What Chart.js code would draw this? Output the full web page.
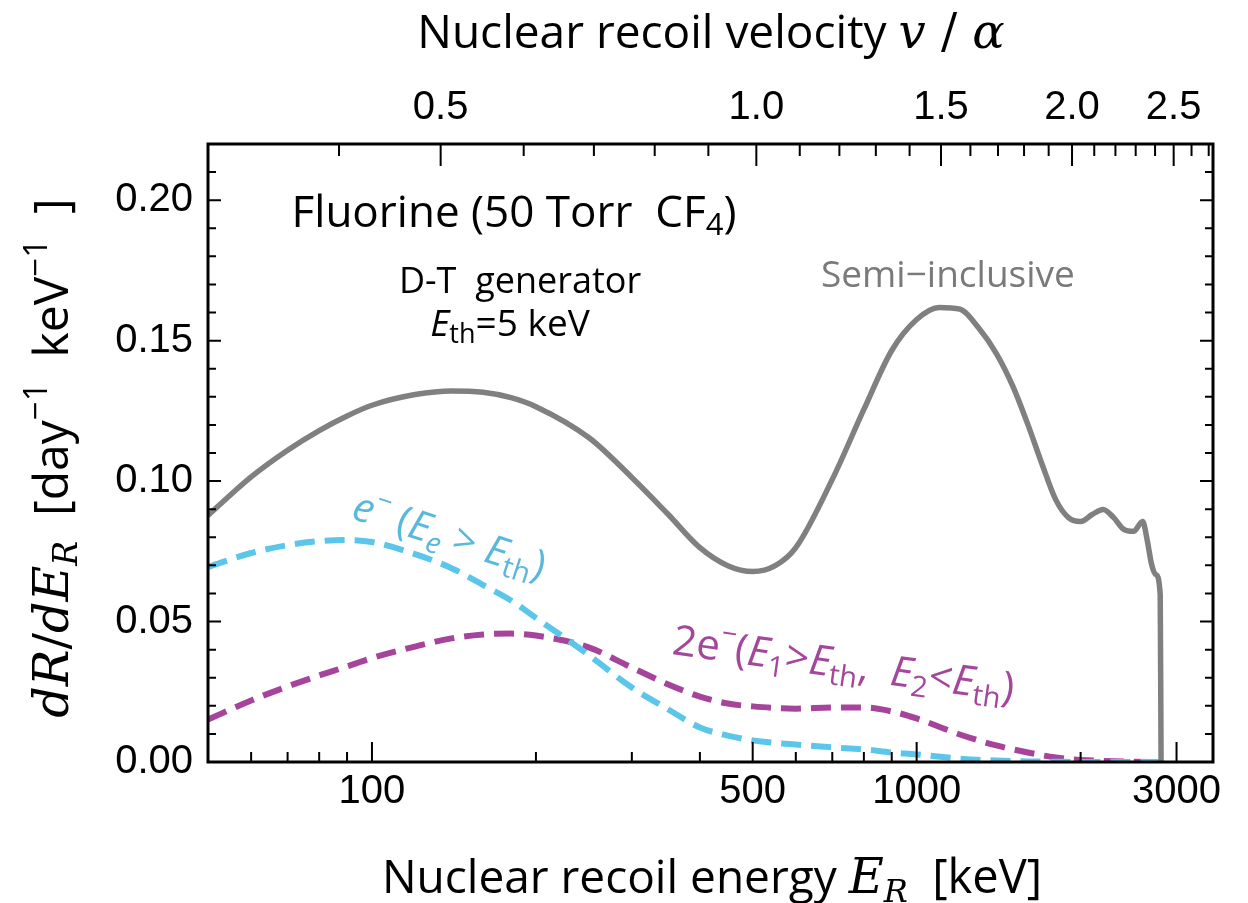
<!DOCTYPE html>
<html>
<head>
<meta charset="utf-8">
<script src="https://cdn.jsdelivr.net/npm/chart.js@4.4.0/dist/chart.umd.min.js"></script>
<style>
  html, body { margin: 0; padding: 0; background: #fff; }
  #wrap { width: 1248px; height: 903px; }
</style>
</head>
<body>
<div id="wrap"><canvas id="c" width="1248" height="903"></canvas></div>
<script>
// ---- data (E in keV, rate in day^-1 keV^-1) ----
const semiEnergy = [50, 60, 70, 80, 90, 100, 120, 140, 160, 180, 200, 250, 300, 350, 400, 450, 500, 550, 600, 700, 800, 900, 1000, 1100, 1200, 1300, 1400, 1500, 1600, 1700, 1800, 1900, 2000, 2100, 2200, 2300, 2400, 2500, 2600, 2650, 2700, 2750, 2800, 2810];
const semiRate = [0.0878, 0.1015, 0.1110, 0.1180, 0.1232, 0.1270, 0.1308, 0.1321, 0.1316, 0.1297, 0.1265, 0.1155, 0.1013, 0.0881, 0.0763, 0.0699, 0.0678, 0.0699, 0.0763, 0.1006, 0.1255, 0.1465, 0.1575, 0.1618, 0.1612, 0.1545, 0.1455, 0.1340, 0.1202, 0.1059, 0.0934, 0.0870, 0.0856, 0.0881, 0.0899, 0.0870, 0.0828, 0.0821, 0.0856, 0.0790, 0.0703, 0.0667, 0.0596, 0.0];

const dashEnergy = [50, 60, 70, 80, 90, 100, 120, 140, 160, 180, 200, 250, 300, 350, 400, 450, 500, 600, 700, 800, 900, 1000, 1200, 1400, 1600, 1800, 2000, 2200, 2500, 2800];
const oneElectron = [0.0694, 0.0744, 0.0772, 0.0786, 0.0790, 0.0783, 0.0740, 0.0690, 0.0630, 0.0575, 0.0513, 0.0381, 0.0265, 0.0187, 0.0123, 0.0094, 0.0077, 0.0062, 0.0052, 0.0045, 0.0034, 0.0027, 0.0012, 0.0005, 0.0002, 0.0001, 0.0, 0.0, 0.0, 0.0];
const twoElectron = [0.0151, 0.0219, 0.0269, 0.0308, 0.0340, 0.0370, 0.0411, 0.0440, 0.0454, 0.0457, 0.0450, 0.0408, 0.0336, 0.0276, 0.0233, 0.0208, 0.0198, 0.0190, 0.0194, 0.0194, 0.0180, 0.0155, 0.0098, 0.0059, 0.0034, 0.0016, 0.0007, 0.0004, 0.0001, 0.0];

// axis ticks
const energyTicks = [50, 60, 70, 80, 90, 100, 200, 300, 400, 500, 600, 700, 800, 900, 1000, 2000, 3000];
const energyLabels = [100, 500, 1000, 3000];
const velocityTicks = [0.4, 0.5, 0.6, 0.7, 0.8, 0.9, 1.0, 1.1, 1.2, 1.3, 1.4, 1.5, 1.6, 1.7, 1.8, 1.9, 2.0, 2.1, 2.2, 2.3, 2.4, 2.5, 2.6, 2.7];
const velocityLabels = [0.5, 1.0, 1.5, 2.0, 2.5];
const rateTicks = [0, 0.01, 0.02, 0.03, 0.04, 0.05, 0.06, 0.07, 0.08, 0.09, 0.10, 0.11, 0.12, 0.13, 0.14, 0.15, 0.16, 0.17, 0.18, 0.19, 0.20, 0.21, 0.22];
const rateLabels = [0, 0.05, 0.10, 0.15, 0.20];

const E_MIN = 50, E_MAX = 3500;
// v/alpha for a fluorine recoil of energy E (keV)
const toVelocity = (e) => 0.04607 * Math.sqrt(e);

const SANS = '"Open Sans", Lato, sans-serif';
const MATH = '"DejaVu Serif", serif';
const TICKFONT = { family: '"Liberation Sans", Arial, sans-serif', size: 40 };

const near = (list, v) => list.some((t) => Math.abs(t - v) < 1e-9);
const pts = (xs, ys) => xs.map((x, i) => ({ x: x, y: ys[i] }));

// draw several text runs one after another on a baseline
function drawRuns(ctx, runs, x, y, align) {
  let w = 0;
  runs.forEach((r) => { ctx.font = r[1]; w += ctx.measureText(r[0]).width; });
  let cx = align === 'center' ? x - w / 2 : x;
  runs.forEach((r) => {
    ctx.font = r[1];
    ctx.fillText(r[0], cx, y + (r[2] || 0));
    cx += ctx.measureText(r[0]).width;
  });
}

const framePlugin = {
  id: 'frame',
  afterDatasetsDraw(chart) {
    const { ctx, chartArea: a, scales } = chart;
    ctx.save();
    ctx.strokeStyle = '#000';
    ctx.lineWidth = 2;
    ctx.beginPath();
    energyTicks.forEach((v) => {
      const px = scales.x.getPixelForValue(v);
      const len = near(energyLabels, v) ? 20 : 10;
      ctx.moveTo(px, a.bottom); ctx.lineTo(px, a.bottom - len);
    });
    velocityTicks.forEach((v) => {
      const px = scales.x2.getPixelForValue(v);
      const len = near(velocityLabels, v) ? 22 : 12;
      ctx.moveTo(px, a.top); ctx.lineTo(px, a.top + len);
    });
    rateTicks.forEach((v) => {
      const py = scales.y.getPixelForValue(v);
      const len = near(rateLabels, v) ? 13 : 8;
      ctx.moveTo(a.left, py); ctx.lineTo(a.left + len, py);
      ctx.moveTo(a.right, py); ctx.lineTo(a.right - len, py);
    });
    ctx.stroke();
    ctx.lineWidth = 3;
    ctx.strokeRect(a.left, a.top, a.right - a.left, a.bottom - a.top);
    ctx.restore();
  },
  afterDraw(chart) {
    const ctx = chart.ctx;
    ctx.save();
    ctx.textAlign = 'left';
    ctx.textBaseline = 'alphabetic';

    // axis titles
    ctx.fillStyle = '#000';
    drawRuns(ctx, [
      ['Nuclear recoil energy ', '46px ' + SANS],
      ['E', 'italic 48px ' + MATH],
      ['R', 'italic 32px ' + MATH, 9],
      ['  [keV]', '47px ' + SANS]
    ], 712, 893, 'center');
    drawRuns(ctx, [
      ['Nuclear recoil velocity ', '46px ' + SANS],
      ['v', 'italic 48px ' + MATH],
      [' / ', '48px ' + MATH],
      ['\u03b1', 'italic 48px ' + MATH]
    ], 711, 48, 'center');

    ctx.save();
    ctx.translate(68, 458);
    ctx.rotate(-Math.PI / 2);
    drawRuns(ctx, [
      ['dR', 'italic 49px ' + MATH],
      ['/', '49px ' + MATH],
      ['dE', 'italic 49px ' + MATH],
      ['R', 'italic 33px ' + MATH, 9],
      ['  [day', '48px ' + SANS],
      ['\u22121', '33px ' + SANS, -21],
      ['  keV', '48px ' + SANS],
      ['\u22121', '33px ' + SANS, -21],
      ['  ]', '48px ' + SANS]
    ], 0, 0, 'center');
    ctx.restore();

    // header text
    drawRuns(ctx, [
      ['Fluorine (50 Torr  CF', '44px ' + SANS],
      ['4', '31px ' + SANS, 8],
      [')', '44px ' + SANS]
    ], 514, 227, 'center');
    drawRuns(ctx, [['D-T  generator', '36px ' + SANS]], 520, 293, 'center');
    drawRuns(ctx, [
      ['E', 'italic 37px ' + SANS],
      ['th', '27px ' + SANS, 7],
      ['=5 keV', '37px ' + SANS]
    ], 510, 336, 'center');

    // curve labels
    ctx.fillStyle = '#7a7a7a';
    drawRuns(ctx, [['Semi\u2212inclusive', '37px ' + SANS]], 821, 287, 'left');

    ctx.save();
    ctx.fillStyle = '#5ab8dd';
    ctx.translate(350, 518);
    ctx.rotate(18 * Math.PI / 180);
    drawRuns(ctx, [
      ['e', 'italic 41px ' + SANS],
      ['\u2212', '27px ' + SANS, -18],
      [' (', '41px ' + SANS],
      ['E', 'italic 41px ' + SANS],
      ['e', 'italic 29px ' + SANS, 8],
      [' > ', '41px ' + SANS],
      ['E', 'italic 41px ' + SANS],
      ['th', '29px ' + SANS, 8],
      [')', '41px ' + SANS]
    ], 0, 0, 'left');
    ctx.restore();

    ctx.save();
    ctx.fillStyle = '#a4479c';
    ctx.translate(671, 654);
    ctx.rotate(8 * Math.PI / 180);
    drawRuns(ctx, [
      ['2e', '42px ' + SANS],
      ['\u2212', '27px ' + SANS, -19],
      ['(', '42px ' + SANS],
      ['E', 'italic 42px ' + SANS],
      ['1', '29px ' + SANS, 8],
      ['>', '42px ' + SANS],
      ['E', 'italic 42px ' + SANS],
      ['th', '29px ' + SANS, 8],
      [',  ', '42px ' + SANS],
      ['E', 'italic 42px ' + SANS],
      ['2', '29px ' + SANS, 8],
      ['<', '42px ' + SANS],
      ['E', 'italic 42px ' + SANS],
      ['th', '29px ' + SANS, 8],
      [')', '42px ' + SANS]
    ], 0, 0, 'left');
    ctx.restore();

    ctx.restore();
  }
};

const lineStyle = { pointRadius: 0, fill: false, cubicInterpolationMode: 'monotone', xAxisID: 'x', yAxisID: 'y' };

new Chart(document.getElementById('c'), {
  type: 'line',
  data: {
    datasets: [
      Object.assign({ label: 'Semi-inclusive', data: pts(semiEnergy, semiRate), borderColor: '#808080', borderWidth: 5.5 }, lineStyle),
      Object.assign({ label: 'e-', data: pts(dashEnergy, oneElectron), borderColor: '#5bc6ea', borderWidth: 6, borderDash: [20, 10] }, lineStyle),
      Object.assign({ label: '2e-', data: pts(dashEnergy, twoElectron), borderColor: '#a6449c', borderWidth: 6, borderDash: [20, 10] }, lineStyle)
    ]
  },
  options: {
    responsive: false,
    animation: false,
    layout: { padding: { left: 0, right: 35, top: 0, bottom: 0 } },
    plugins: { legend: { display: false }, tooltip: { enabled: false } },
    scales: {
      x: {
        type: 'logarithmic', position: 'bottom', min: E_MIN, max: E_MAX,
        grid: { display: false, drawTicks: false }, border: { display: false },
        afterBuildTicks: (s) => { s.ticks = energyTicks.map((v) => ({ value: v })); },
        afterFit: (s) => { s.height = 141; },
        ticks: {
          autoSkip: false, maxRotation: 0, minRotation: 0, padding: 6, color: '#000', font: TICKFONT,
          callback: (v) => (near(energyLabels, v) ? String(v) : '')
        }
      },
      x2: {
        type: 'logarithmic', position: 'top', min: toVelocity(E_MIN), max: toVelocity(E_MAX),
        grid: { display: false, drawTicks: false }, border: { display: false },
        afterBuildTicks: (s) => { s.ticks = velocityTicks.map((v) => ({ value: v })); },
        afterFit: (s) => { s.height = 144; },
        ticks: {
          autoSkip: false, maxRotation: 0, minRotation: 0, padding: 12, color: '#000', font: TICKFONT,
          callback: (v) => (near(velocityLabels, v) ? v.toFixed(1) : '')
        }
      },
      y: {
        type: 'linear', position: 'left', min: 0, max: 0.22,
        grid: { display: false, drawTicks: false }, border: { display: false },
        afterBuildTicks: (s) => { s.ticks = rateTicks.map((v) => ({ value: v })); },
        afterFit: (s) => { s.width = 208; },
        ticks: {
          autoSkip: false, padding: 15, color: '#000', font: TICKFONT,
          callback: (v) => (near(rateLabels, v) ? v.toFixed(2) : '')
        }
      }
    }
  },
  plugins: [framePlugin]
});
</script>
</body>
</html>
